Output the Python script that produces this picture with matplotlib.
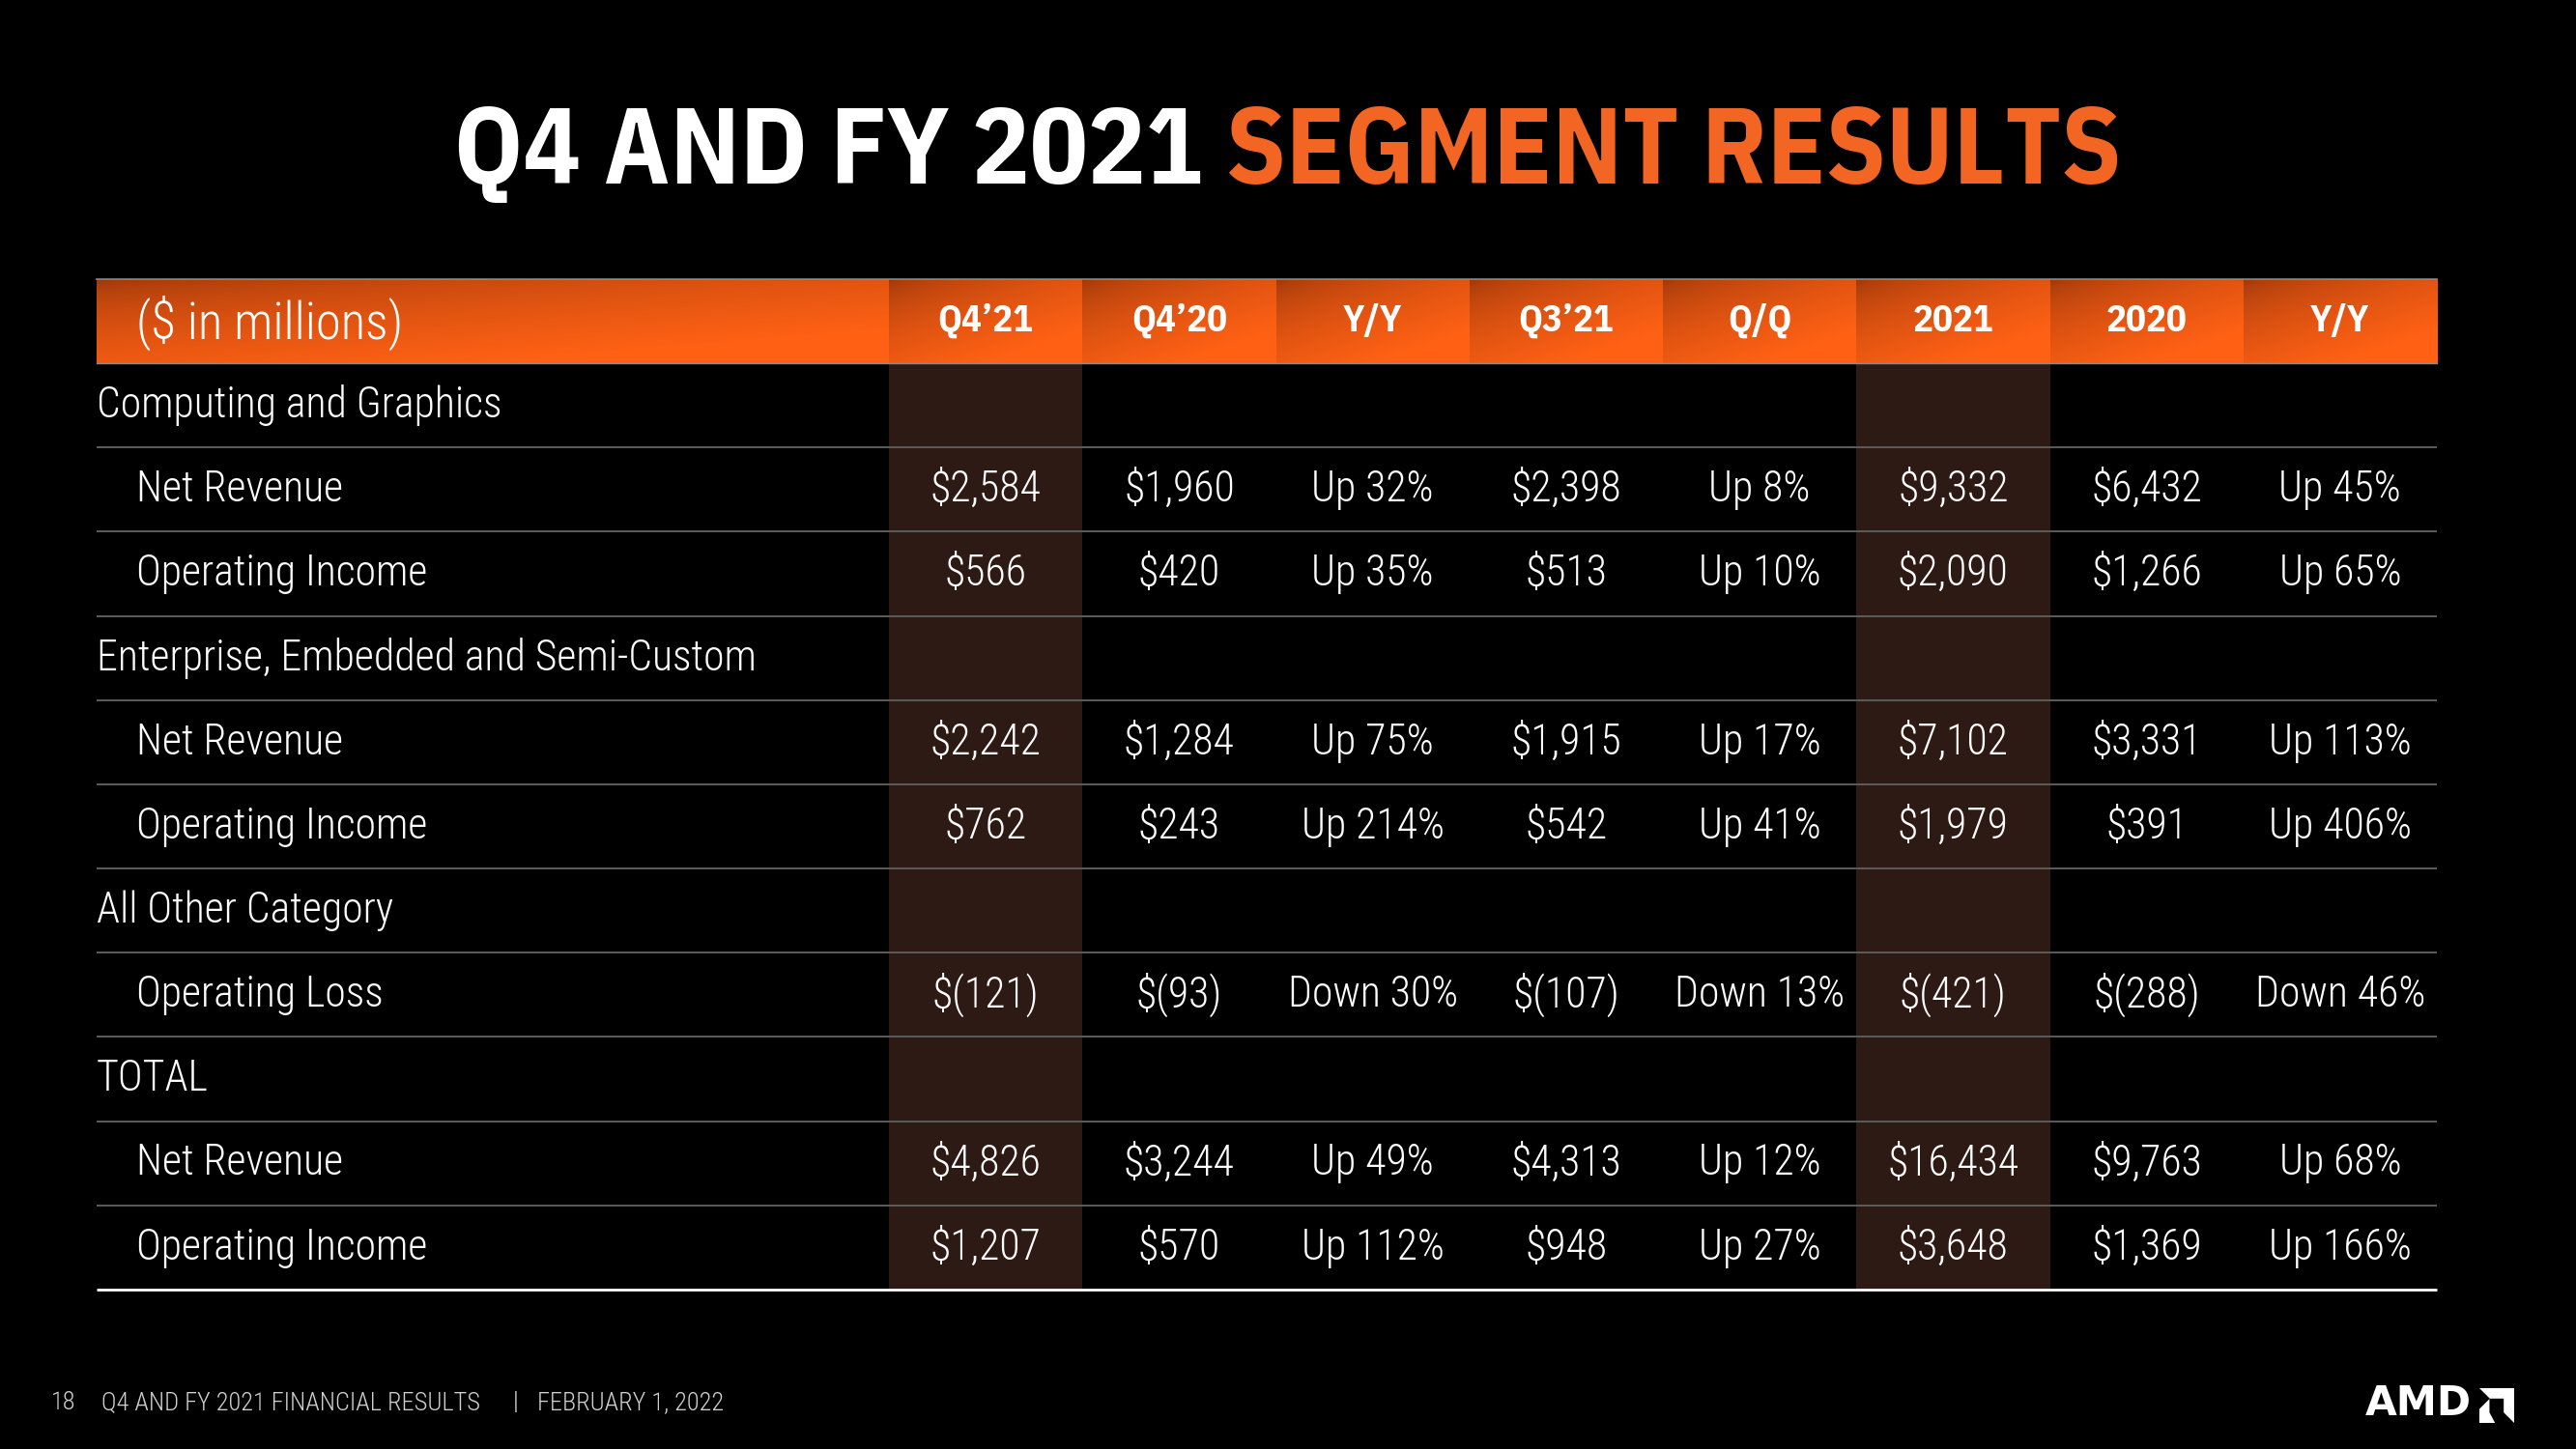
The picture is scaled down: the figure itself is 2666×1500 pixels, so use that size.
import numpy as np
import matplotlib
matplotlib.use("Agg")
from matplotlib import pyplot as plt
from matplotlib.patches import Rectangle, Polygon

plt.rcParams['font.family'] = ['Roboto Condensed', 'Archivo Narrow', 'DejaVu Sans']
BOLD = ['IBM Plex Sans Condensed', 'DejaVu Sans']
TEXT_W = "light"

# ---- data ----
columns = ["Q4’21", "Q4’20", "Y/Y", "Q3’21", "Q/Q", "2021", "2020", "Y/Y"]
highlight_cols = [0, 5]

segments = ["Computing and Graphics", "Enterprise, Embedded and Semi-Custom",
            "All Other Category", "TOTAL"]
cg_rows = ["Net Revenue", "Operating Income"]
cg_rev = [2584, 1960, 32, 2398, 8, 9332, 6432, 45]
cg_oi = [566, 420, 35, 513, 10, 2090, 1266, 65]
ees_rows = ["Net Revenue", "Operating Income"]
ees_rev = [2242, 1284, 75, 1915, 17, 7102, 3331, 113]
ees_oi = [762, 243, 214, 542, 41, 1979, 391, 406]
other_rows = ["Operating Loss"]
other_ol = [-121, -93, -30, -107, -13, -421, -288, -46]
total_rows = ["Net Revenue", "Operating Income"]
total_rev = [4826, 3244, 49, 4313, 12, 16434, 9763, 68]
total_oi = [1207, 570, 112, 948, 27, 3648, 1369, 166]

pct_cols = [2, 4, 7]

footer_page = "18"
footer_title = "Q4 AND FY 2021 FINANCIAL RESULTS"
footer_date = "FEBRUARY 1, 2022"


def fmt(v, col):
    if col in pct_cols:
        return ("Up %d%%" % v) if v >= 0 else ("Down %d%%" % -v)
    if v < 0:
        return "$({:,})".format(-v)
    return "${:,}".format(v)


table = [
    (segments[0], None), (cg_rows[0], cg_rev), (cg_rows[1], cg_oi),
    (segments[1], None), (ees_rows[0], ees_rev), (ees_rows[1], ees_oi),
    (segments[2], None), (other_rows[0], other_ol),
    (segments[3], None), (total_rows[0], total_rev), (total_rows[1], total_oi),
]

W, H = 2666, 1500
fig = plt.figure(figsize=(W / 100, H / 100), dpi=100, facecolor="black")
ax = fig.add_axes([0, 0, 1, 1])
ax.set_xlim(0, W)
ax.set_ylim(H, 0)
ax.axis("off")
ax.set_facecolor("black")

# layout
x_left, x_lab = 100, 920
x_right = 2522
col_w = (x_right - x_lab) / len(columns)
col_x = [x_lab + i * col_w for i in range(len(columns) + 1)]
head_top, head_bot = 289, 376
row_h = (1335 - head_bot) / len(table)

# header gradient cells
dark = np.array([0.60, 0.21, 0.04])
bright = np.array([1.0, 0.38, 0.08])


def grad_cell(x0, x1):
    n = 60
    u = np.linspace(0, 1, n)[None, :]
    v = np.linspace(0, 1, n)[:, None]
    t = np.clip((u * 0.6 + v * 0.8) / 1.1, 0, 1) ** 0.55
    img = dark[None, None, :] * (1 - t[..., None]) + bright[None, None, :] * t[..., None]
    ax.imshow(img, extent=(x0, x1, head_bot, head_top), origin="upper",
              interpolation="bilinear", aspect="auto", zorder=1)


grad_cell(x_left, x_lab)
for i in range(len(columns)):
    grad_cell(col_x[i], col_x[i + 1])
ax.set_xlim(0, W)
ax.set_ylim(H, 0)
ax.plot([x_left, x_right], [head_top, head_top], color="#8a8a8a", lw=1.2, zorder=3)
ax.plot([x_left, x_right], [head_bot, head_bot], color="#8a8a8a", lw=1.0, zorder=3)

ax.text(141, (head_top + head_bot) / 2 + 2, "($ in millions)", color="white",
        fontsize=38, fontweight=TEXT_W, ha="left", va="center", zorder=4)
for i, c in enumerate(columns):
    ax.text((col_x[i] + col_x[i + 1]) / 2, (head_top + head_bot) / 2, c,
            color="white", fontsize=28, fontweight="bold", family=BOLD,
            ha="center", va="center", zorder=4)

# highlighted columns
for i in highlight_cols:
    ax.add_patch(Rectangle((col_x[i], head_bot), col_w, row_h * len(table),
                           facecolor="#2e1a14", edgecolor="none", zorder=1))

# rows
for r, (label, vals) in enumerate(table):
    yc = head_bot + (r + 0.5) * row_h
    yb = head_bot + (r + 1) * row_h
    if vals is None:
        ax.text(x_left, yc, label, color="white", fontsize=31.5, fontweight=TEXT_W,
                ha="left", va="center", zorder=4)
    else:
        ax.text(141, yc, label, color="white", fontsize=31.5, fontweight=TEXT_W,
                ha="left", va="center", zorder=4)
        for i, v in enumerate(vals):
            ax.text((col_x[i] + col_x[i + 1]) / 2, yc, fmt(v, i), color="white",
                    fontsize=31.5, fontweight=TEXT_W, ha="center", va="center",
                    zorder=4)
    last = r == len(table) - 1
    ax.plot([x_left, x_right], [yb, yb], color="white" if last else "#5c5c5c",
            lw=2.0 if last else 1.4, zorder=3, solid_capstyle="butt")

# title
renderer = fig.canvas.get_renderer()
t1 = ax.text(0, 160, "Q4 AND FY 2021 ", color="white", fontsize=80,
             fontweight="bold", family=BOLD, ha="left", va="center")
t2 = ax.text(0, 160, "SEGMENT RESULTS", color="#f26522", fontsize=80,
             fontweight="bold", family=BOLD, ha="left", va="center")
w1 = t1.get_window_extent(renderer).width
w2 = t2.get_window_extent(renderer).width
x0 = W / 2 - (w1 + w2) / 2
t1.set_x(x0)
t2.set_x(x0 + w1)

# footer
fy = 1452
ax.text(53, fy, footer_page, color="#d0d0d0", fontsize=19, fontweight=TEXT_W,
        ha="left", va="center")
ax.text(105, fy, footer_title, color="#d0d0d0", fontsize=19, fontweight=TEXT_W,
        ha="left", va="center")
ax.text(534, fy, "|", color="#d0d0d0", fontsize=19, fontweight=TEXT_W,
        ha="center", va="center")
ax.text(556, fy, footer_date, color="#d0d0d0", fontsize=19, fontweight=TEXT_W,
        ha="left", va="center")

# AMD logo
ax.text(2448, 1453, "AMD", color="white", fontsize=30.5, fontweight="bold",
        family=["DejaVu Sans"], ha="left", va="center")
lx, ly, ls = 2566, 1437, 36
outer = [(0, 0), (100, 0), (100, 100), (70, 70), (70, 30), (30, 30)]
inner = [(0, 100), (0, 60), (29, 31), (29, 70), (45, 100)]
for poly in (outer, inner):
    ax.add_patch(Polygon([(lx + px * ls / 100, ly + py * ls / 100) for px, py in poly],
                         closed=True, facecolor="white", edgecolor="none"))

fig.savefig("out.png", dpi=100, facecolor="black")
